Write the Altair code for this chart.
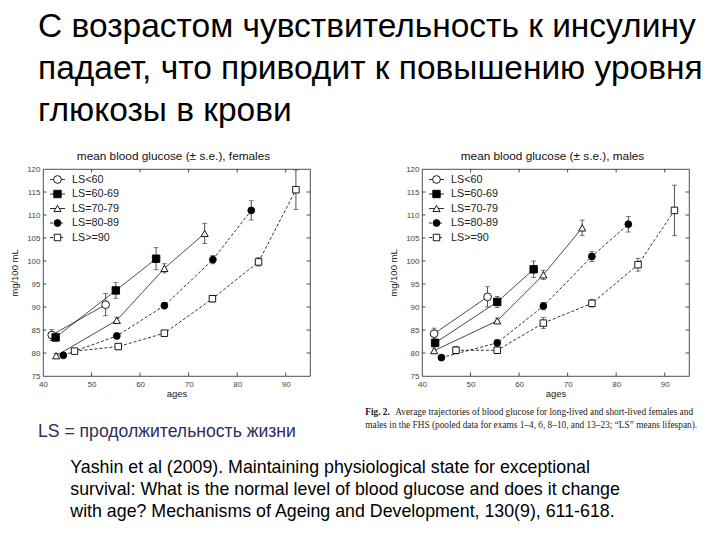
import altair as alt
import pandas as pd

series = ["LS<60", "LS=60-69", "LS=70-79", "LS=80-89", "LS>=90"]
shapes = ["circle", "square", "triangle-up", "circle", "square"]
fills = ["white", "black", "white", "black", "white"]
sizes = [60, 42, 48, 62, 34]
dashes = ["solid", "solid", "solid", "dashed", "dashed"]

# females
f_series = ["LS<60"] * 2 + ["LS=60-69"] * 3 + ["LS=70-79"] * 4 + ["LS=80-89"] * 5 + ["LS>=90"] * 6
f_age = [41.8, 52.9,
         42.6, 55.0, 63.3,
         42.7, 55.2, 65.0, 73.3,
         44.2, 55.2, 65.0, 75.0, 82.9,
         46.5, 55.5, 65.0, 74.9, 84.4, 92.1]
f_glu = [83.9, 90.5,
         83.4, 93.6, 100.5,
         79.4, 87.1, 98.4, 106.0,
         79.5, 83.7, 90.3, 100.3, 111.0,
         80.4, 81.4, 84.3, 91.8, 99.8, 115.5]
f_se = [1.2, 2.4,
        0.9, 1.7, 2.4,
        0.5, 0.7, 1.0, 2.2,
        0.5, 0.6, 0.7, 0.9, 2.1,
        0.5, 0.6, 0.6, 0.7, 0.9, 4.3]

# males
m_series = f_series
m_age = [42.5, 53.5,
         42.7, 55.5, 63.0,
         42.5, 55.5, 65.0, 73.0,
         44.0, 55.5, 65.0, 75.0, 82.5,
         47.0, 55.5, 65.0, 75.0, 84.5, 92.0]
m_glu = [84.2, 92.2,
         82.2, 91.1, 98.2,
         80.5, 87.0, 97.0, 107.2,
         79.0, 82.2, 90.2, 101.0, 108.0,
         80.6, 80.6, 86.5, 90.8, 99.2, 111.0]
m_se = [1.2, 2.2,
        0.8, 1.2, 1.8,
        0.6, 0.6, 1.0, 1.7,
        0.5, 0.6, 0.8, 1.1, 1.7,
        0.8, 0.7, 1.2, 0.8, 1.4, 5.5]

x_ticks = [40, 50, 60, 70, 80, 90]
y_ticks = [75, 80, 85, 90, 95, 100, 105, 110, 115, 120]
x_inner = [50, 60, 70, 80, 90]
y_inner = [80, 85, 90, 95, 100, 105, 110, 115]

title_lines = ["С возрастом чувствительность к инсулину",
               "падает, что приводит к повышению уровня",
               "глюкозы в крови"]
ls_note = "LS = продолжительность жизни"
citation = ["Yashin et al (2009). Maintaining physiological state for exceptional",
            "survival: What is the normal level of blood glucose and does it change",
            "with age? Mechanisms of Ageing and Development, 130(9), 611-618."]
caption_bold = "Fig. 2."
caption = ["Average trajectories of blood glucose for long-lived and short-lived females and",
           "males in the FHS (pooled data for exams 1–4, 6, 8–10, and 13–23; “LS” means lifespan)."]

W, H = 267, 207
FONT = "Liberation Sans"

xs = alt.Scale(domain=[40, 95], nice=False, zero=False)
ys = alt.Scale(domain=[75, 120], nice=False, zero=False)
dash_scale = alt.Scale(domain=series, range=[[1, 0] if d == "solid" else [3, 2] for d in dashes])

x_axis = alt.Axis(values=x_ticks, labelFlush=False, labelOverlap=False, ticks=False, tickSize=0,
                  domain=False, labelPadding=4, titlePadding=0, grid=False)
y_axis = alt.Axis(values=y_ticks, labelFlush=False, labelOverlap=False, ticks=False, tickSize=0,
                  domain=False, labelPadding=3, titlePadding=7, grid=False, labelBound=False)


def XA(field):
    return alt.X(field, scale=xs, axis=x_axis, title="ages")


def YA(field):
    return alt.Y(field, scale=ys, axis=y_axis, title="mg/100 mL")


def make_df(s, a, g, e):
    df = pd.DataFrame({"series": s, "age": a, "glu": g, "se": e})
    df["lo"] = df["glu"] - df["se"]
    df["hi"] = df["glu"] + df["se"]
    return df


def panel(df, ptitle, extra):
    base = alt.Chart(df)
    lines = base.mark_line(color="black", strokeWidth=0.8).encode(
        x=XA("age:Q"), y=YA("glu:Q"), detail="series:N", order="age:Q",
        strokeDash=alt.StrokeDash("series:N", scale=dash_scale, legend=None))
    bars = base.mark_rule(color="#222", strokeWidth=0.8).encode(
        x=XA("age:Q"), y=YA("lo:Q"), y2="hi:Q")
    cap_lo = base.mark_tick(orient="horizontal", size=5, thickness=0.8, color="#222").encode(
        x=XA("age:Q"), y=YA("lo:Q"))
    cap_hi = base.mark_tick(orient="horizontal", size=5, thickness=0.8, color="#222").encode(
        x=XA("age:Q"), y=YA("hi:Q"))
    pts = base.mark_point(stroke="black", strokeWidth=0.9, opacity=1, fillOpacity=1).encode(
        x=XA("age:Q"), y=YA("glu:Q"),
        shape=alt.Shape("series:N", scale=alt.Scale(domain=series, range=shapes), legend=None),
        fill=alt.Fill("series:N", scale=alt.Scale(domain=series, range=fills), legend=None),
        size=alt.Size("series:N", scale=alt.Scale(domain=series, range=sizes), legend=None))

    xi = alt.Chart(pd.DataFrame({"age": x_inner}))
    yi = alt.Chart(pd.DataFrame({"glu": y_inner}))
    tb = xi.mark_rule(color="#222", strokeWidth=0.8).encode(
        x=XA("age:Q"), y=alt.value(H), y2=alt.value(H - 3.5))
    tt = xi.mark_rule(color="#222", strokeWidth=0.8).encode(
        x=XA("age:Q"), y=alt.value(0), y2=alt.value(3.5))
    tl = yi.mark_rule(color="#222", strokeWidth=0.8).encode(
        y=YA("glu:Q"), x=alt.value(0), x2=alt.value(3.5))
    tr = yi.mark_rule(color="#222", strokeWidth=0.8).encode(
        y=YA("glu:Q"), x=alt.value(W), x2=alt.value(W - 3.5))

    leg = alt.Chart(pd.DataFrame({"series": series, "row": list(range(len(series)))})).transform_calculate(
        ly="10.5 + 14.5 * datum.row")
    leg_line = leg.mark_rule(color="black", strokeWidth=0.8).encode(
        x=alt.value(7), x2=alt.value(22), y=alt.Y("ly:Q", scale=None),
        strokeDash=alt.StrokeDash("series:N", scale=dash_scale, legend=None))
    leg_pt = leg.mark_point(stroke="black", strokeWidth=0.9, opacity=1, fillOpacity=1).encode(
        x=alt.value(14.5), y=alt.Y("ly:Q", scale=None),
        shape=alt.Shape("series:N", scale=alt.Scale(domain=series, range=shapes), legend=None),
        fill=alt.Fill("series:N", scale=alt.Scale(domain=series, range=fills), legend=None),
        size=alt.Size("series:N", scale=alt.Scale(domain=series, range=sizes), legend=None))
    leg_txt = leg.mark_text(align="left", baseline="middle", font=FONT, fontSize=10.8, color="#222").encode(
        x=alt.value(29), y=alt.Y("ly:Q", scale=None), text="series:N")

    ttl = alt.Chart(pd.DataFrame({"t": [ptitle]})).mark_text(
        align="center", baseline="alphabetic", font=FONT, fontSize=11.8, color="#111").encode(
        x=alt.value(W / 2 - 3), y=alt.value(-9), text="t:N")

    layers = [lines, bars, cap_lo, cap_hi, pts, tb, tt, tl, tr, leg_line, leg_pt, leg_txt, ttl] + extra
    return alt.layer(*layers).properties(width=W, height=H)


# slide texts (relative to the female plot origin)
tdf = pd.DataFrame({"t": title_lines, "row": list(range(len(title_lines)))})
slide_title = alt.Chart(tdf).transform_calculate(ty="-132 + 42 * datum.row").mark_text(
    align="left", baseline="alphabetic", font=FONT, fontSize=33.5, color="#000").encode(
    x=alt.value(-5), y=alt.Y("ty:Q", scale=None), text="t:N")
note = alt.Chart(pd.DataFrame({"t": [ls_note]})).mark_text(
    align="left", baseline="alphabetic", font=FONT, fontSize=17.6, color="#2e2e5e").encode(
    x=alt.value(-5), y=alt.value(268), text="t:N")
cdf = pd.DataFrame({"t": citation, "row": list(range(len(citation)))})
cite = alt.Chart(cdf).transform_calculate(ty="304 + 22 * datum.row").mark_text(
    align="left", baseline="alphabetic", font=FONT, fontSize=17.8, color="#000").encode(
    x=alt.value(27.3), y=alt.Y("ty:Q", scale=None), text="t:N")

capdf = pd.DataFrame({"t": caption, "row": [0, 1], "dx": [30.0, 0.0]})
cap_txt = alt.Chart(capdf).transform_calculate(ty="246 + 13 * datum.row", tx="-56.7 + datum.dx").mark_text(
    align="left", baseline="alphabetic", font="Liberation Serif", fontSize=9.3, color="#222").encode(
    x=alt.X("tx:Q", scale=None), y=alt.Y("ty:Q", scale=None), text="t:N")
cap_b = alt.Chart(pd.DataFrame({"t": [caption_bold]})).mark_text(
    align="left", baseline="alphabetic", font="Liberation Serif", fontSize=9.3, fontWeight="bold",
    color="#222").encode(x=alt.value(-56.7), y=alt.value(246), text="t:N")

fem = panel(make_df(f_series, f_age, f_glu, f_se), "mean blood glucose (± s.e.), females",
            [slide_title, note, cite])
mal = panel(make_df(m_series, m_age, m_glu, m_se), "mean blood glucose (± s.e.), males",
            [cap_b, cap_txt])

chart = alt.hconcat(fem, mal, spacing=112, bounds="flush").properties(
    padding={"left": 1, "top": 1, "right": 0, "bottom": 0}, background="white"
).configure_view(stroke="#222", strokeWidth=0.8).configure_axis(
    labelFont=FONT, labelFontSize=8, labelColor="#444", labelOverlap=False,
    titleFont=FONT, titleFontSize=9.5, titleFontWeight="normal", titleColor="#222")

chart.save("out.html", embed_options={"renderer": "svg", "actions": False})
